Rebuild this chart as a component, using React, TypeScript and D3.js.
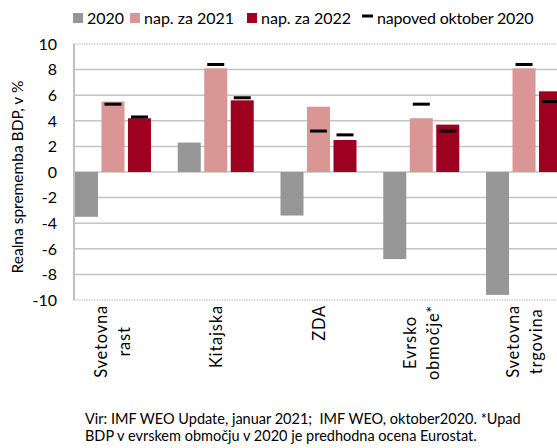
import React, { useEffect, useRef } from 'react';
import * as d3 from 'd3';

// categories (lines of each rotated label)
const categories = ['Svetovna rast', 'Kitajska', 'ZDA', 'Evrsko območje*', 'Svetovna trgovina'];
const categoryLines = [['Svetovna', 'rast'], ['Kitajska'], ['ZDA'], ['Evrsko', 'območje*'], ['Svetovna', 'trgovina']];

const series = ['2020', 'nap. za 2021', 'nap. za 2022'];
const v2020 = [-3.5, 2.3, -3.4, -6.8, -9.6];
const v2021 = [5.5, 8.1, 5.1, 4.2, 8.1];
const v2022 = [4.2, 5.6, 2.5, 3.7, 6.3];
// napoved oktober 2020 (markers on 2021 and 2022 bars)
const oct2021 = [5.3, 8.4, 3.2, 5.3, 8.4];
const oct2022 = [4.3, 5.8, 2.9, 3.2, 5.5];

const yTicks = [-10, -8, -6, -4, -2, 0, 2, 4, 6, 8, 10];
const legendLabels = ['2020', 'nap. za 2021', 'nap. za 2022', 'napoved oktober 2020'];
const colors = ['#969696', '#d99694', '#9e0020'];

const FONT = 'Lato, sans-serif';
const W = 557, H = 448;

export default function App() {
  const ref = useRef<SVGSVGElement>(null);

  useEffect(() => {
    const svg = d3.select(ref.current);
    svg.selectAll('*').remove();

    const left = 74, top = 44, bottom = 300;
    const y = d3.scaleLinear().domain([-10, 10]).range([bottom, top]);
    const x = d3.scaleBand<string>().domain(categories).range([61.6, 575.4]);
    const xs = d3.scaleBand<string>().domain(series).range([0, x.bandwidth()])
      .paddingInner(0.132).paddingOuter(0.505);

    // gridlines
    svg.append('g').selectAll('line')
      .data(yTicks.filter(t => t > -10 && t < 10))
      .enter().append('line')
      .attr('x1', left).attr('x2', W)
      .attr('y1', d => y(d)).attr('y2', d => y(d))
      .attr('stroke', '#c4c4c4').attr('stroke-width', 1.5);

    // plot border top / bottom (dotted)
    [10, -10].forEach(t => {
      svg.append('line')
        .attr('x1', left).attr('x2', W)
        .attr('y1', y(t)).attr('y2', y(t))
        .attr('stroke', '#cfcfcf').attr('stroke-width', 1.5)
        .attr('stroke-dasharray', '1.5,1');
    });

    const valuesBySeries = [v2020, v2021, v2022];
    const rows = categories.flatMap((c, i) =>
      series.map((s, j) => ({ c, s, j, v: valuesBySeries[j][i] })));

    svg.append('g').selectAll('rect')
      .data(rows)
      .enter().append('rect')
      .attr('x', d => x(d.c)! + xs(d.s)!)
      .attr('width', xs.bandwidth())
      .attr('y', d => y(Math.max(0, d.v)))
      .attr('height', d => Math.abs(y(d.v) - y(0)))
      .attr('fill', d => colors[d.j]);

    // october markers
    const marks = categories.flatMap((c, i) => [
      { c, s: series[1], v: oct2021[i] },
      { c, s: series[2], v: oct2022[i] },
    ]);
    const mw = 17;
    svg.append('g').selectAll('rect')
      .data(marks)
      .enter().append('rect')
      .attr('x', d => x(d.c)! + xs(d.s)! + xs.bandwidth() / 2 - mw / 2)
      .attr('width', mw)
      .attr('y', d => y(d.v) - 1.5)
      .attr('height', 3)
      .attr('fill', '#000');

    // left axis line
    svg.append('line')
      .attr('x1', left).attr('x2', left)
      .attr('y1', top).attr('y2', bottom)
      .attr('stroke', '#c0c0c0').attr('stroke-width', 2);

    // y tick labels
    svg.append('g').selectAll('text')
      .data(yTicks)
      .enter().append('text')
      .attr('x', 57).attr('y', d => y(d))
      .attr('dy', '0.36em')
      .attr('text-anchor', 'end')
      .attr('font-family', FONT).attr('font-size', 16)
      .text(d => d);

    // y axis title
    svg.append('text')
      .attr('transform', 'translate(23,177) rotate(-90)')
      .attr('text-anchor', 'middle')
      .attr('font-family', FONT).attr('font-size', 15.5)
      .text('Realna sprememba BDP, v %');

    // x labels (rotated)
    const lineGap = 23;
    categories.forEach((c, i) => {
      const lines = categoryLines[i];
      const cx = x(c)! + x.bandwidth() / 2;
      const g = svg.append('g')
        .attr('transform', `translate(${cx},305) rotate(-90)`)
        .attr('font-family', FONT).attr('font-size', 16.5)
        .attr('letter-spacing', 0.8);
      // widest line ends at the axis, the other lines centred on it
      const texts = lines.map((l, k) => g.append('text')
        .attr('y', (k - (lines.length - 1) / 2) * lineGap + 6)
        .attr('text-anchor', 'middle')
        .text(l));
      const maxW = d3.max(texts, t => (t.node() as SVGTextElement).getComputedTextLength()) || 0;
      texts.forEach(t => t.attr('x', -maxW / 2));
    });

    // legend
    const lg = svg.append('g').attr('font-family', FONT).attr('font-size', 16);
    const legendX = [73, 130, 247, 362];
    legendLabels.forEach((l, i) => {
      const lx = legendX[i];
      if (i < 3) {
        lg.append('rect').attr('x', lx).attr('y', 13).attr('width', 10).attr('height', 10)
          .attr('fill', colors[i]);
        lg.append('text').attr('x', lx + 14).attr('y', 24).text(l);
      } else {
        lg.append('rect').attr('x', lx).attr('y', 14.5).attr('width', 11).attr('height', 3)
          .attr('fill', '#000');
        lg.append('text').attr('x', lx + 15).attr('y', 24).attr('letter-spacing', -0.2).text(l);
      }
    });

    // footer
    const footer = [
      'Vir: IMF WEO Update, januar 2021;  IMF WEO, oktober2020. *Upad',
      'BDP v evrskem območju v 2020 je predhodna ocena Eurostat.',
    ];
    svg.append('g').selectAll('text')
      .data(footer)
      .enter().append('text')
      .attr('x', 85).attr('y', (d, i) => 424 + i * 17)
      .attr('font-family', FONT).attr('font-size', 14.5)
      .attr('xml:space', 'preserve')
      .style('white-space', 'pre')
      .text(d => d);
  }, []);

  return (
    <svg ref={ref} width={W} height={H}
      style={{ position: 'absolute', left: 0, top: 0, background: '#fff' }} />
  );
}
